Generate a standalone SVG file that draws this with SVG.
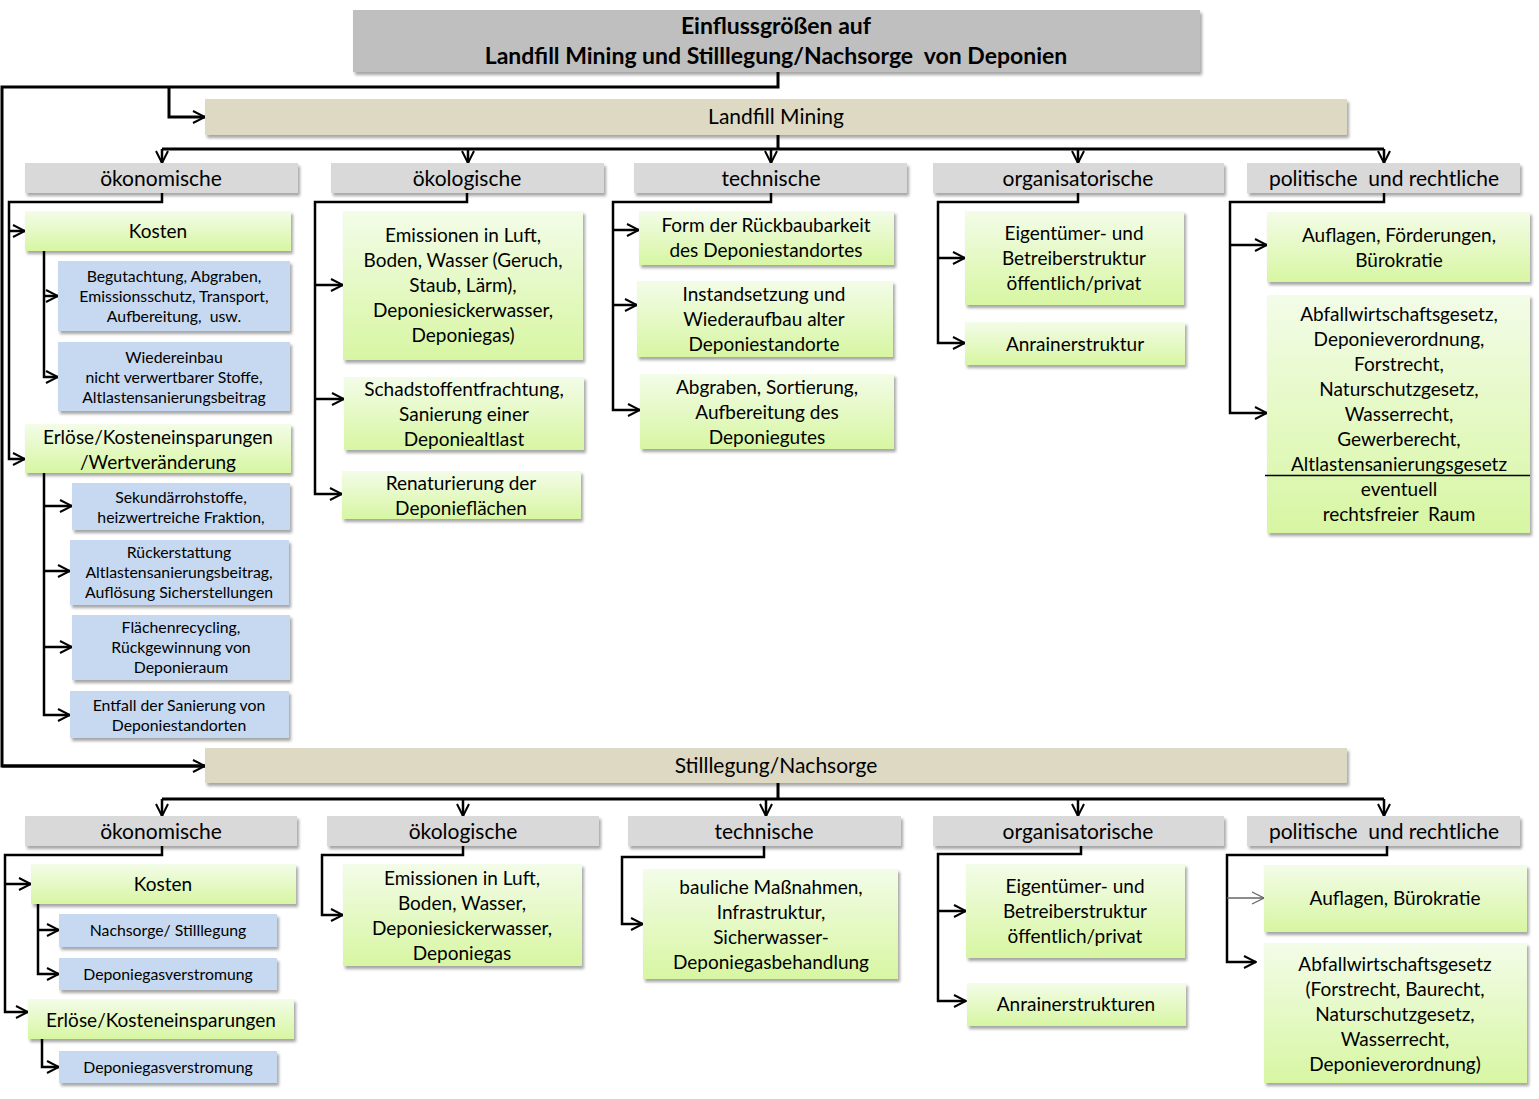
<svg xmlns="http://www.w3.org/2000/svg" width="1539" height="1099" viewBox="0 0 1539 1099">
<defs>
<linearGradient id="grn" x1="0" y1="0" x2="0" y2="1">
<stop offset="0" stop-color="#f3fce8"/>
<stop offset="1" stop-color="#d7f6a2"/>
</linearGradient>
<filter id="sh" x="-5%" y="-10%" width="115%" height="130%">
<feDropShadow dx="2" dy="3" stdDeviation="1.6" flood-color="#000" flood-opacity="0.35"/>
</filter>
<marker id="ar" viewBox="0 0 14 14" refX="13" refY="7" markerWidth="14" markerHeight="14" markerUnits="userSpaceOnUse" orient="auto">
<path d="M1,1 L13,7 L1,13" fill="none" stroke="#000" stroke-width="2"/>
</marker>
<marker id="arg" viewBox="0 0 14 14" refX="13" refY="7" markerWidth="14" markerHeight="14" markerUnits="userSpaceOnUse" orient="auto">
<path d="M1,1 L13,7 L1,13" fill="none" stroke="#666" stroke-width="1.3"/>
</marker>
</defs>
<style>
text{font-family:Lato,"Open Sans","Liberation Sans",sans-serif;fill:#000;text-anchor:middle}
.t17{font-size:19px}
.t14{font-size:15.8px}
.t19{font-size:21px}
.bold{font-weight:bold;font-size:23px}
.pre{white-space:pre}
.gr{fill:url(#grn);filter:url(#sh)}
.bl{fill:#c6d9f1;filter:url(#sh)}
.ca{fill:#d9d9d9;filter:url(#sh)}
.tn{fill:#ddd9c3;filter:url(#sh)}
.ti{fill:#bfbfbf;filter:url(#sh)}
.ln{fill:none;stroke:#000;stroke-width:2.5}
.lt{fill:none;stroke:#000;stroke-width:3}
.a{marker-end:url(#ar)}
</style>
<rect width="1539" height="1099" fill="#fff"/>

<g id="connectors">
<path class="lt" d="M778,72 V87 H2 V766 H205"/>
<path class="lt a" d="M2,766 H205"/>
<path class="lt a" d="M169,87 V117 H205"/>
<path class="lt" d="M778,135 V149 M162,149 H1384"/>
<path class="ln a" d="M162,149 V163"/>
<path class="ln a" d="M468,149 V163"/>
<path class="ln a" d="M771,149 V163"/>
<path class="ln a" d="M1078,149 V163"/>
<path class="ln a" d="M1384,149 V163"/>
<path class="ln a" d="M162,193 V202 H9 V459 H25"/>
<path class="ln a" d="M9,231 H25"/>
<path class="ln a" d="M44,251 V377 H58"/>
<path class="ln a" d="M44,296 H58"/>
<path class="ln a" d="M44,473 V715 H70"/>
<path class="ln a" d="M44,506 H72"/>
<path class="ln a" d="M44,571 H70"/>
<path class="ln a" d="M44,647 H72"/>
<path class="ln a" d="M467,193 V202 H315 V494 H342"/>
<path class="ln a" d="M315,285 H343"/>
<path class="ln a" d="M315,399 H344"/>
<path class="ln a" d="M771,193 V202 H613 V410 H640"/>
<path class="ln a" d="M613,230 H639"/>
<path class="ln a" d="M613,305 H637"/>
<path class="ln a" d="M1078,193 V202 H938 V343 H965"/>
<path class="ln a" d="M938,258 H965"/>
<path class="ln a" d="M1384,193 V202 H1230 V413 H1267"/>
<path class="ln a" d="M1230,245 H1267"/>

<path class="lt" d="M778,783 V799 M162,799 H1384"/>
<path class="ln a" d="M162,799 V816"/>
<path class="ln a" d="M463,799 V816"/>
<path class="ln a" d="M766,799 V816"/>
<path class="ln a" d="M1078,799 V816"/>
<path class="ln a" d="M1384,799 V816"/>
<path class="ln a" d="M162,846 V855 H5 V1012 H28"/>
<path class="ln a" d="M5,884 H31"/>
<path class="ln a" d="M38,904 V974 H59"/>
<path class="ln a" d="M38,930 H59"/>
<path class="ln a" d="M42,1039 V1067 H59"/>
<path class="ln a" d="M463,846 V855 H322 V915 H343"/>
<path class="ln a" d="M764,846 V857 H622 V924 H643"/>
<path class="ln a" d="M1081,846 V854 H938 V1001 H966"/>
<path class="ln a" d="M938,911 H966"/>
<path class="ln a" d="M1387,846 V855 H1227 V962 H1256"/>
<path d="M1227,898 H1264" fill="none" stroke="#666" stroke-width="1.3" marker-end="url(#arg)"/>
</g>

<g id="title">
<rect class="ti" x="353" y="10" width="847" height="62"/>
<text class="bold" x="776" y="34">Einflussgrößen auf</text>
<text class="bold pre" x="776" y="64">Landfill Mining und Stilllegung/Nachsorge  von Deponien</text>
</g>

<g id="landfill-mining">
<rect class="tn" x="205" y="99" width="1142" height="36"/>
<text class="t19" x="776" y="124">Landfill Mining</text>
</g>

<g id="lm-oekonomische"><rect class="ca" x="25" y="163" width="273" height="30"/><text class="t19" x="161" y="186">ökonomische</text></g>
<g id="lm-oekologische"><rect class="ca" x="331" y="163" width="273" height="30"/><text class="t19" x="467" y="186">ökologische</text></g>
<g id="lm-technische"><rect class="ca" x="634" y="163" width="273" height="30"/><text class="t19" x="771" y="186">technische</text></g>
<g id="lm-organisatorische"><rect class="ca" x="933" y="163" width="291" height="30"/><text class="t19" x="1078" y="186">organisatorische</text></g>
<g id="lm-politische"><rect class="ca" x="1247" y="163" width="273" height="30"/><text class="t19 pre" x="1384" y="186">politische  und rechtliche</text></g>

<g id="lm-kosten"><rect class="gr" x="25" y="211" width="266" height="40"/><text class="t17" x="158" y="238">Kosten</text></g>
<g id="lm-begutachtung"><rect class="bl" x="58" y="261" width="232" height="70"/>
<text class="t14" x="174" y="282">Begutachtung, Abgraben,</text>
<text class="t14" x="174" y="302">Emissionsschutz, Transport,</text>
<text class="t14 pre" x="174" y="322">Aufbereitung,  usw.</text></g>
<g id="lm-wiedereinbau"><rect class="bl" x="58" y="342" width="232" height="69"/>
<text class="t14" x="174" y="363">Wiedereinbau</text>
<text class="t14" x="174" y="383">nicht verwertbarer Stoffe,</text>
<text class="t14" x="174" y="403">Altlastensanierungsbeitrag</text></g>
<g id="lm-erloese"><rect class="gr" x="25" y="424" width="266" height="49"/>
<text class="t17" x="158" y="444">Erlöse/Kosteneinsparungen</text>
<text class="t17" x="158" y="469">/Wertveränderung</text></g>
<g id="lm-sekundaer"><rect class="bl" x="72" y="483" width="218" height="47"/>
<text class="t14" x="181" y="503">Sekundärrohstoffe,</text>
<text class="t14" x="181" y="523">heizwertreiche Fraktion,</text></g>
<g id="lm-rueckerstattung"><rect class="bl" x="70" y="540" width="219" height="65"/>
<text class="t14" x="179" y="558">Rückerstattung</text>
<text class="t14" x="179" y="578">Altlastensanierungsbeitrag,</text>
<text class="t14" x="179" y="598">Auflösung Sicherstellungen</text></g>
<g id="lm-flaechen"><rect class="bl" x="72" y="615" width="218" height="65"/>
<text class="t14" x="181" y="633">Flächenrecycling,</text>
<text class="t14" x="181" y="653">Rückgewinnung von</text>
<text class="t14" x="181" y="673">Deponieraum</text></g>
<g id="lm-entfall"><rect class="bl" x="70" y="691" width="219" height="47"/>
<text class="t14" x="179" y="711">Entfall der Sanierung von</text>
<text class="t14" x="179" y="731">Deponiestandorten</text></g>

<g id="lm-emissionen"><rect class="gr" x="343" y="211" width="240" height="149"/>
<text class="t17" x="463" y="242">Emissionen in Luft,</text>
<text class="t17" x="463" y="267">Boden, Wasser (Geruch,</text>
<text class="t17" x="463" y="292">Staub, Lärm),</text>
<text class="t17" x="463" y="317">Deponiesickerwasser,</text>
<text class="t17" x="463" y="342">Deponiegas)</text></g>
<g id="lm-schadstoff"><rect class="gr" x="344" y="377" width="240" height="73"/>
<text class="t17" x="464" y="396">Schadstoffentfrachtung,</text>
<text class="t17" x="464" y="421">Sanierung einer</text>
<text class="t17" x="464" y="446">Deponiealtlast</text></g>
<g id="lm-renaturierung"><rect class="gr" x="342" y="471" width="239" height="48"/>
<text class="t17" x="461" y="490">Renaturierung der</text>
<text class="t17" x="461" y="515">Deponieflächen</text></g>

<g id="lm-form"><rect class="gr" x="639" y="211" width="255" height="54"/>
<text class="t17" x="766" y="232">Form der Rückbaubarkeit</text>
<text class="t17" x="766" y="257">des Deponiestandortes</text></g>
<g id="lm-instandsetzung"><rect class="gr" x="637" y="281" width="256" height="76"/>
<text class="t17" x="764" y="301">Instandsetzung und</text>
<text class="t17" x="764" y="326">Wiederaufbau alter</text>
<text class="t17" x="764" y="351">Deponiestandorte</text></g>
<g id="lm-abgraben"><rect class="gr" x="640" y="374" width="254" height="75"/>
<text class="t17" x="767" y="394">Abgraben, Sortierung,</text>
<text class="t17" x="767" y="419">Aufbereitung des</text>
<text class="t17" x="767" y="444">Deponiegutes</text></g>

<g id="lm-eigentuemer"><rect class="gr" x="965" y="211" width="219" height="94"/>
<text class="t17" x="1074" y="240">Eigentümer- und</text>
<text class="t17" x="1074" y="265">Betreiberstruktur</text>
<text class="t17" x="1074" y="290">öffentlich/privat</text></g>
<g id="lm-anrainer"><rect class="gr" x="965" y="322" width="220" height="43"/>
<text class="t17" x="1075" y="351">Anrainerstruktur</text></g>

<g id="lm-auflagen"><rect class="gr" x="1267" y="212" width="263" height="70"/>
<text class="t17" x="1399" y="242">Auflagen, Förderungen,</text>
<text class="t17" x="1399" y="267">Bürokratie</text></g>
<g id="lm-abfall"><rect class="gr" x="1267" y="295" width="263" height="238"/>
<text class="t17" x="1399" y="321">Abfallwirtschaftsgesetz,</text>
<text class="t17" x="1399" y="346">Deponieverordnung,</text>
<text class="t17" x="1399" y="371">Forstrecht,</text>
<text class="t17" x="1399" y="396">Naturschutzgesetz,</text>
<text class="t17" x="1399" y="421">Wasserrecht,</text>
<text class="t17" x="1399" y="446">Gewerberecht,</text>
<text class="t17" x="1399" y="471">Altlastensanierungsgesetz</text>
<line x1="1265" y1="475.5" x2="1530" y2="475.5" stroke="#000" stroke-width="1.3"/>
<text class="t17" x="1399" y="496">eventuell</text>
<text class="t17 pre" x="1399" y="521">rechtsfreier  Raum</text></g>

<g id="stilllegung">
<rect class="tn" x="205" y="748" width="1142" height="35"/>
<text class="t19" x="776" y="773">Stilllegung/Nachsorge</text>
</g>

<g id="sn-oekonomische"><rect class="ca" x="25" y="816" width="272" height="30"/><text class="t19" x="161" y="839">ökonomische</text></g>
<g id="sn-oekologische"><rect class="ca" x="327" y="816" width="272" height="30"/><text class="t19" x="463" y="839">ökologische</text></g>
<g id="sn-technische"><rect class="ca" x="628" y="816" width="273" height="30"/><text class="t19" x="764" y="839">technische</text></g>
<g id="sn-organisatorische"><rect class="ca" x="933" y="816" width="291" height="30"/><text class="t19" x="1078" y="839">organisatorische</text></g>
<g id="sn-politische"><rect class="ca" x="1247" y="816" width="273" height="30"/><text class="t19 pre" x="1384" y="839">politische  und rechtliche</text></g>

<g id="sn-kosten"><rect class="gr" x="31" y="864" width="265" height="40"/><text class="t17" x="163" y="891">Kosten</text></g>
<g id="sn-nachsorge"><rect class="bl" x="59" y="914" width="218" height="33"/><text class="t14" x="168" y="936">Nachsorge/ Stilllegung</text></g>
<g id="sn-gas1"><rect class="bl" x="59" y="958" width="218" height="32"/><text class="t14" x="168" y="980">Deponiegasverstromung</text></g>
<g id="sn-erloese"><rect class="gr" x="28" y="999" width="266" height="40"/><text class="t17" x="161" y="1027">Erlöse/Kosteneinsparungen</text></g>
<g id="sn-gas2"><rect class="bl" x="59" y="1051" width="218" height="32"/><text class="t14" x="168" y="1073">Deponiegasverstromung</text></g>

<g id="sn-emissionen"><rect class="gr" x="343" y="864" width="239" height="102"/>
<text class="t17" x="462" y="885">Emissionen in Luft,</text>
<text class="t17" x="462" y="910">Boden, Wasser,</text>
<text class="t17" x="462" y="935">Deponiesickerwasser,</text>
<text class="t17" x="462" y="960">Deponiegas</text></g>

<g id="sn-bauliche"><rect class="gr" x="643" y="869" width="255" height="110"/>
<text class="t17" x="771" y="894">bauliche Maßnahmen,</text>
<text class="t17" x="771" y="919">Infrastruktur,</text>
<text class="t17" x="771" y="944">Sicherwasser-</text>
<text class="t17" x="771" y="969">Deponiegasbehandlung</text></g>

<g id="sn-eigentuemer"><rect class="gr" x="966" y="864" width="219" height="94"/>
<text class="t17" x="1075" y="893">Eigentümer- und</text>
<text class="t17" x="1075" y="918">Betreiberstruktur</text>
<text class="t17" x="1075" y="943">öffentlich/privat</text></g>
<g id="sn-anrainer"><rect class="gr" x="967" y="983" width="219" height="43"/>
<text class="t17" x="1076" y="1011">Anrainerstrukturen</text></g>

<g id="sn-auflagen"><rect class="gr" x="1264" y="865" width="263" height="67"/>
<text class="t17" x="1395" y="905">Auflagen, Bürokratie</text></g>
<g id="sn-abfall"><rect class="gr" x="1264" y="943" width="263" height="140"/>
<text class="t17" x="1395" y="971">Abfallwirtschaftsgesetz</text>
<text class="t17" x="1395" y="996">(Forstrecht, Baurecht,</text>
<text class="t17" x="1395" y="1021">Naturschutzgesetz,</text>
<text class="t17" x="1395" y="1046">Wasserrecht,</text>
<text class="t17" x="1395" y="1071">Deponieverordnung)</text></g>
</svg>
